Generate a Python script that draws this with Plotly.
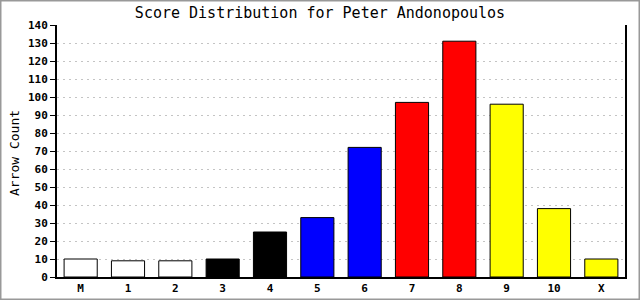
import plotly.graph_objects as go

categories = ["M", "1", "2", "3", "4", "5", "6", "7", "8", "9", "10", "X"]
counts = [10, 9, 9, 10, 25, 33, 72, 97, 131, 96, 38, 10]
bar_colors = ["#ffffff", "#ffffff", "#ffffff", "#000000", "#000000", "#0000ff",
              "#0000ff", "#ff0000", "#ff0000", "#ffff00", "#ffff00", "#ffff00"]
y_ticks = list(range(0, 141, 10))

W, H = 640, 300
L, R, T, B = 57, 15, 25, 23
pw, ph = W - L - R, H - T - B

fig = go.Figure(go.Bar(
    x=categories, y=counts,
    marker=dict(color=bar_colors, line=dict(color="#000000", width=1)),
    hoverinfo="x+y",
))

font_mono = "DejaVu Sans Mono, Liberation Mono, monospace"

fig.update_layout(
    width=W, height=H,
    margin=dict(l=L, r=R, t=T, b=B, pad=0, autoexpand=False),
    paper_bgcolor="#ffffff", plot_bgcolor="#ffffff",
    bargap=0.3,
    showlegend=False,
    title=dict(text="Score Distribution for Peter Andonopoulos",
               x=0.5, xref="container", xanchor="center",
               y=1 - 13 / H, yref="container", yanchor="middle",
               font=dict(family=font_mono, size=15, color="#000000")),
    font=dict(family=font_mono, color="#000000"),
    xaxis=dict(
        type="category", automargin=False,
        showline=True, linecolor="#000000", linewidth=2,
        showgrid=False, ticks="", ticklen=0,
        tickfont=dict(family=font_mono, size=11, color="#000000", weight="bold"),
    ),
    yaxis=dict(
        range=[0, 140], tickvals=y_ticks, automargin=False,
        showline=True, linecolor="#000000", linewidth=2, mirror=True,
        ticks="outside", ticklen=5, tickcolor="#000000", tickwidth=1,
        showgrid=True, gridcolor="#c4c4c4", griddash="2px,4px", gridwidth=1,
        zeroline=False,
        tickfont=dict(family=font_mono, size=11, color="#000000", weight="bold"),
    ),
    annotations=[dict(
        text="Arrow Count", textangle=-90,
        xref="paper", yref="paper",
        x=(14 - L) / pw, y=(H - B - 153) / ph,
        xanchor="center", yanchor="middle", showarrow=False,
        font=dict(family=font_mono, size=13, color="#000000"),
    )],
    shapes=[dict(
        type="rect", xref="paper", yref="paper",
        x0=(-L + 0.75) / pw, x1=(W - L - 0.75) / pw,
        y0=(-B + 0.75) / ph, y1=(H - B - 0.75) / ph,
        line=dict(color="#999999", width=1.5), fillcolor="rgba(0,0,0,0)",
        layer="above",
    )],
)

fig.write_html("out.html")
